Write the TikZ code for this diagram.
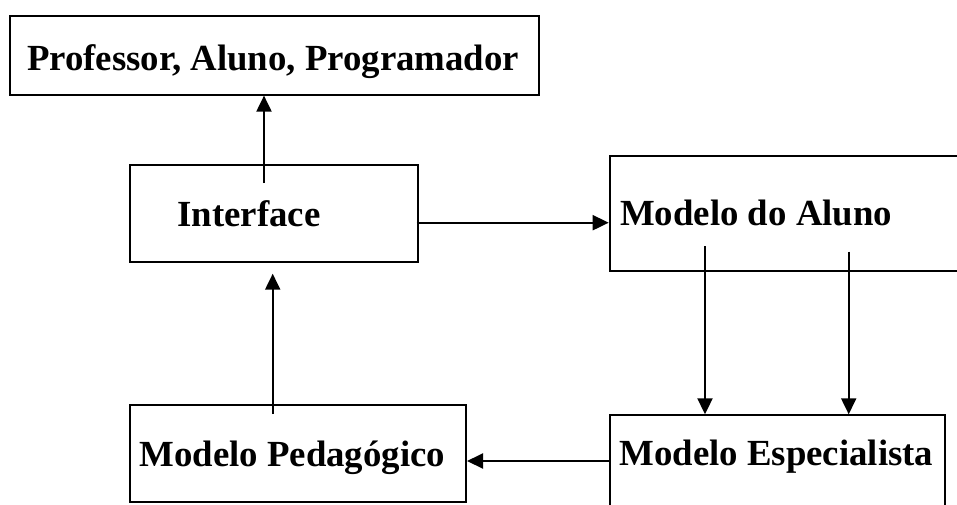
\documentclass[tikz,border=0pt]{standalone}
\usepackage{fontspec}
\setmainfont{Liberation Serif}
\usetikzlibrary{arrows.meta,calc}

\tikzset{
  box/.style={draw, line width=2pt, inner sep=0, anchor=north west},
  txt/.style={inner sep=0, anchor=base west, font=\fontsize{36.8}{40}\selectfont\bfseries},
  arr/.style={line width=2pt, -{Triangle[length=16pt,width=15pt]}}
}

\begin{document}
\begin{tikzpicture}[x=1pt,y=-1pt]

\useasboundingbox (0,0) rectangle (957,504);
\clip (0,0) rectangle (957,504);

\node[box, minimum width=528.9pt, minimum height=78.6pt] (prof) at (8.6,15) {};
\node[box, minimum width=288pt, minimum height=96.7pt] (iface) at (128.7,164) {};
\node[box, minimum width=400pt, minimum height=115pt] (aluno) at (608.7,155) {};
\node[box, minimum width=336.3pt, minimum height=96.4pt] (peda) at (128.7,404.3) {};
\node[box, minimum width=335.6pt, minimum height=120pt] (espec) at (608.7,414.3) {};

\node[txt] (prof-t) at (26.8,70.7) {Professor, Aluno, Programador};
\node[txt] (iface-t) at (177.3,226) {Interface};
\node[txt] (aluno-t) at (620,225) {Modelo do Aluno};
\node[txt] (peda-t) at (139.3,466) {Modelo Pedagógico};
\node[txt] (espec-t) at (619.3,465) {Modelo Especialista};

\coordinate (up1) at (264,183);
\coordinate (right1) at (416.7,222.7);
\coordinate (down1) at (705,246);
\coordinate (down2) at (848.7,251.7);
\coordinate (left1) at (608.7,461);
\coordinate (up2) at (272.7,414);

\draw[arr] (up1) -- (up1 |- prof.south);
\draw[arr] (right1) -- (right1 -| aluno.west);
\draw[arr] (down1) -- (down1 |- espec.north);
\draw[arr] (down2) -- (down2 |- espec.north);
\draw[arr] (left1) -- (left1 -| peda.east);
\draw[arr] (up2) -- ($(up2 |- iface.south)+(0,11)$);

\end{tikzpicture}
\end{document}
